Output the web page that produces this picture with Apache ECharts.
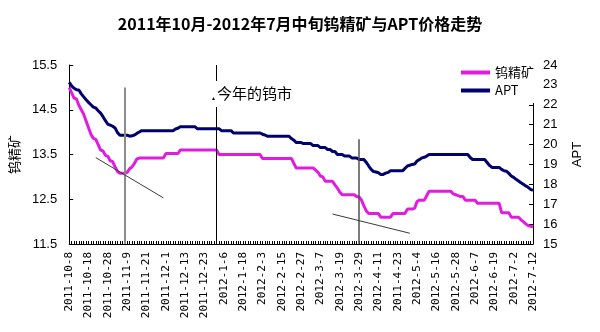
<!DOCTYPE html>
<html>
<head>
<meta charset="utf-8">
<script src="https://cdn.jsdelivr.net/npm/echarts@6/dist/echarts.min.js"></script>
<style>
html,body{margin:0;padding:0;background:#fff;}
#chart{width:600px;height:332px;}
</style>
</head>
<body>
<div id="chart"></div>
<script>
// ---- categories (trading days) ----
const categories = [
'2011-10-8','2011-10-9','2011-10-10','2011-10-11','2011-10-12','2011-10-13','2011-10-14','2011-10-17',
'2011-10-18','2011-10-19','2011-10-20','2011-10-21','2011-10-24','2011-10-25','2011-10-26','2011-10-27',
'2011-10-28','2011-10-31','2011-11-1','2011-11-2','2011-11-3','2011-11-4','2011-11-7','2011-11-8',
'2011-11-9','2011-11-10','2011-11-11','2011-11-14','2011-11-15','2011-11-16','2011-11-17','2011-11-18',
'2011-11-21','2011-11-22','2011-11-23','2011-11-24','2011-11-25','2011-11-28','2011-11-29','2011-11-30',
'2011-12-1','2011-12-2','2011-12-5','2011-12-6','2011-12-7','2011-12-8','2011-12-9','2011-12-12',
'2011-12-13','2011-12-14','2011-12-15','2011-12-16','2011-12-19','2011-12-20','2011-12-21','2011-12-22',
'2011-12-23','2011-12-26','2011-12-27','2011-12-28','2011-12-29','2011-12-30','2012-1-4','2012-1-5',
'2012-1-6','2012-1-9','2012-1-10','2012-1-11','2012-1-12','2012-1-13','2012-1-16','2012-1-17',
'2012-1-18','2012-1-19','2012-1-20','2012-1-21','2012-1-30','2012-1-31','2012-2-1','2012-2-2',
'2012-2-3','2012-2-6','2012-2-7','2012-2-8','2012-2-9','2012-2-10','2012-2-13','2012-2-14',
'2012-2-15','2012-2-16','2012-2-17','2012-2-20','2012-2-21','2012-2-22','2012-2-23','2012-2-24',
'2012-2-27','2012-2-28','2012-2-29','2012-3-1','2012-3-2','2012-3-3','2012-3-5','2012-3-6',
'2012-3-7','2012-3-8','2012-3-9','2012-3-12','2012-3-13','2012-3-14','2012-3-15','2012-3-16',
'2012-3-19','2012-3-20','2012-3-21','2012-3-22','2012-3-23','2012-3-26','2012-3-27','2012-3-28',
'2012-3-29','2012-3-30','2012-3-31','2012-4-1','2012-4-5','2012-4-6','2012-4-9','2012-4-10',
'2012-4-11','2012-4-12','2012-4-13','2012-4-16','2012-4-17','2012-4-18','2012-4-19','2012-4-20',
'2011-4-23','2012-4-24','2012-4-25','2012-4-26','2012-4-27','2012-4-28','2012-5-2','2012-5-3',
'2012-5-4','2012-5-7','2012-5-8','2012-5-9','2012-5-10','2012-5-11','2012-5-14','2012-5-15',
'2012-5-16','2012-5-17','2012-5-18','2012-5-21','2012-5-22','2012-5-23','2012-5-24','2012-5-25',
'2012-5-28','2012-5-29','2012-5-30','2012-5-31','2012-6-1','2012-6-4','2012-6-5','2012-6-6',
'2012-6-7','2012-6-8','2012-6-11','2012-6-12','2012-6-13','2012-6-14','2012-6-15','2012-6-18',
'2012-6-19','2012-6-20','2012-6-21','2012-6-25','2012-6-26','2012-6-27','2012-6-28','2012-6-29',
'2012-7-2','2012-7-3','2012-7-4','2012-7-5','2012-7-6','2012-7-9','2012-7-10','2012-7-11',
'2012-7-12'];

// ---- 钨精矿 (left axis) ----
const wolframConc = [
15.00,14.88,14.76,14.74,14.60,14.50,14.40,14.25,
14.10,13.95,13.86,13.84,13.72,13.60,13.58,13.48,
13.46,13.36,13.34,13.22,13.12,13.08,13.08,13.08,
13.10,13.18,13.22,13.30,13.40,13.42,13.42,13.42,
13.42,13.42,13.42,13.42,13.42,13.42,13.42,13.42,
13.52,13.52,13.52,13.52,13.52,13.52,13.60,13.60,
13.60,13.60,13.60,13.60,13.60,13.60,13.60,13.60,
13.60,13.60,13.60,13.60,13.60,13.60,13.50,13.50,
13.50,13.50,13.50,13.50,13.50,13.50,13.50,13.50,
13.50,13.50,13.50,13.50,13.50,13.50,13.50,13.50,
13.41,13.41,13.41,13.41,13.41,13.41,13.41,13.41,
13.41,13.41,13.41,13.41,13.41,13.30,13.20,13.20,
13.20,13.20,13.20,13.20,13.20,13.20,13.15,13.10,
13.02,13.00,12.90,12.90,12.90,12.90,12.82,12.75,
12.66,12.60,12.60,12.60,12.60,12.60,12.60,12.56,
12.55,12.48,12.35,12.24,12.18,12.18,12.18,12.18,
12.18,12.10,12.10,12.10,12.10,12.10,12.18,12.18,
12.18,12.18,12.18,12.18,12.28,12.28,12.28,12.30,
12.45,12.48,12.48,12.48,12.58,12.68,12.68,12.68,
12.68,12.68,12.68,12.68,12.68,12.68,12.68,12.62,
12.60,12.58,12.56,12.56,12.48,12.48,12.48,12.48,
12.48,12.41,12.41,12.41,12.41,12.41,12.41,12.41,
12.41,12.41,12.41,12.20,12.20,12.20,12.20,12.10,
12.10,12.10,12.10,12.04,12.00,11.95,11.91,11.90,
11.88];

// ---- APT (right axis) ----
const aptPrice = [
23.13,22.95,22.83,22.76,22.74,22.55,22.40,22.25,
22.12,22.00,21.88,21.84,21.70,21.58,21.40,21.20,
21.02,20.98,20.92,20.83,20.60,20.47,20.47,20.47,
20.47,20.42,20.44,20.48,20.56,20.63,20.70,20.70,
20.70,20.70,20.70,20.70,20.70,20.70,20.70,20.70,
20.70,20.70,20.70,20.70,20.78,20.82,20.90,20.90,
20.90,20.90,20.90,20.90,20.90,20.80,20.80,20.80,
20.80,20.80,20.80,20.80,20.80,20.80,20.80,20.70,
20.70,20.70,20.70,20.70,20.58,20.58,20.58,20.58,
20.58,20.58,20.58,20.58,20.58,20.58,20.58,20.58,
20.52,20.48,20.42,20.42,20.42,20.42,20.42,20.42,
20.42,20.42,20.42,20.42,20.30,20.22,20.10,20.10,
20.10,20.05,20.05,20.05,20.05,19.95,19.95,19.95,
19.85,19.85,19.85,19.75,19.75,19.65,19.65,19.50,
19.50,19.50,19.42,19.42,19.42,19.33,19.33,19.33,
19.25,19.25,19.25,19.10,18.92,18.75,18.64,18.62,
18.58,18.50,18.50,18.56,18.60,18.68,18.68,18.68,
18.68,18.68,18.68,18.80,18.92,18.96,19.00,19.02,
19.17,19.25,19.33,19.36,19.42,19.50,19.50,19.50,
19.50,19.50,19.50,19.50,19.50,19.50,19.50,19.50,
19.50,19.50,19.50,19.50,19.50,19.50,19.35,19.25,
19.25,19.25,19.25,19.25,19.25,19.10,18.95,18.85,
18.85,18.85,18.85,18.75,18.68,18.66,18.55,18.42,
18.35,18.25,18.17,18.08,18.00,17.92,17.85,17.75,
17.70];

// ---- axis tick labels ----
const leftTicks = [11.5, 12.5, 13.5, 14.5, 15.5];
const rightTicks = [15, 16, 17, 18, 19, 20, 21, 22, 23, 24];

// ---- hand-drawn guide lines, in data space [categoryIndex, 钨精矿 value] ----
const guideStart = [[23, 15.0], [61, 15.5], [120, 13.84], [11, 13.43], [109, 12.17]];
const guideEnd   = [[23, 11.5], [61, 11.5], [120, 11.5], [39, 12.53], [141, 11.74]];
const guideColor = ['#8c8c8c', '#000000', '#505050', '#3a3a3a', '#3a3a3a'];
const guideWidth = [2, 1, 1.5, 1, 1];

const chart = echarts.init(document.getElementById('chart'), null, {renderer: 'canvas'});

const markData = guideStart.map((s, k) => [
  {coord: s, lineStyle: {color: guideColor[k], width: guideWidth[k], type: 'solid'}},
  {coord: guideEnd[k]}
]);

const option = {
  animation: false,
  backgroundColor: '#fff',
  title: {
    text: '2011年10月-2012年7月中旬钨精矿与APT价格走势',
    left: 'center',
    top: 11,
    textStyle: {fontSize: 16, fontWeight: 'bold', color: '#000', fontFamily: 'Noto Sans CJK SC'}
  },
  legend: {
    data: ['钨精矿', 'APT'],
    orient: 'vertical',
    left: 458,
    top: 63,
    icon: 'rect',
    itemWidth: 29,
    itemHeight: 4,
    itemGap: 5,
    padding: [3, 7, 6, 3],
    backgroundColor: '#fff',
    z: 10,
    textStyle: {fontSize: 13, color: '#000', fontFamily: 'Noto Sans CJK SC'}
  },
  grid: {left: 66, right: 67, top: 65, bottom: 88, containLabel: false},
  xAxis: {
    type: 'category',
    data: categories,
    boundaryGap: false,
    axisLine: {lineStyle: {color: '#000', width: 1}},
    axisTick: {show: true, inside: true, length: 3, interval: 0, lineStyle: {color: '#000'}},
    axisLabel: {interval: 7, rotate: 90, margin: 8, color: '#000', fontSize: 11, fontFamily: 'DejaVu Sans Mono'},
    splitLine: {show: false}
  },
  yAxis: [
    {
      type: 'value',
      min: 11.5, max: 15.5, interval: 0.5,
      name: '钨精矿',
      nameLocation: 'middle',
      nameRotate: 90,
      nameGap: 46,
      nameTextStyle: {fontSize: 13, color: '#000', fontFamily: 'Noto Sans CJK SC'},
      axisLine: {show: true, lineStyle: {color: '#000'}},
      axisTick: {show: true, inside: true, length: 4, customValues: leftTicks, lineStyle: {color: '#000'}},
      axisLabel: {customValues: leftTicks, margin: 12, color: '#000', fontSize: 13, fontFamily: 'Liberation Sans', formatter: v => v.toFixed(1)},
      splitLine: {show: false}
    },
    {
      type: 'value',
      min: 15, max: 24, interval: 1,
      position: 'right',
      name: 'APT',
      nameLocation: 'middle',
      nameRotate: 90,
      nameGap: 38,
      nameTextStyle: {fontSize: 13, color: '#000', fontFamily: 'Liberation Sans'},
      axisLine: {show: true, lineStyle: {color: '#000'}},
      axisTick: {show: true, inside: true, length: 4, lineStyle: {color: '#000'}},
      axisLabel: {customValues: rightTicks, margin: 10, color: '#000', fontSize: 13, fontFamily: 'Liberation Sans'},
      splitLine: {show: false}
    }
  ],
  series: [
    {
      name: '钨精矿',
      type: 'line',
      yAxisIndex: 0,
      data: wolframConc,
      symbol: 'none',
      lineStyle: {color: '#E01CE0', width: 3},
      itemStyle: {color: '#E01CE0'},
      markLine: {
        silent: true,
        symbol: ['none', 'none'],
        label: {show: false},
        data: markData
      }
    },
    {
      name: 'APT',
      type: 'line',
      yAxisIndex: 1,
      data: aptPrice,
      symbol: 'none',
      lineStyle: {color: '#000070', width: 3},
      itemStyle: {color: '#000070'}
    }
  ],
  graphic: [
    {
      type: 'text',
      left: 211,
      top: 81,
      z: 20,
      style: {
        text: '{t|▲}今年的钨市',
        fill: '#000',
        font: '15px "Noto Sans CJK SC"',
        backgroundColor: '#fff',
        padding: [5, 3, 6, 0],
        rich: {t: {fontSize: 5, fill: '#000', verticalAlign: 'bottom', padding: [0, 1, 0, 0]}}
      }
    }
  ]
};

chart.setOption(option);
</script>
</body>
</html>
